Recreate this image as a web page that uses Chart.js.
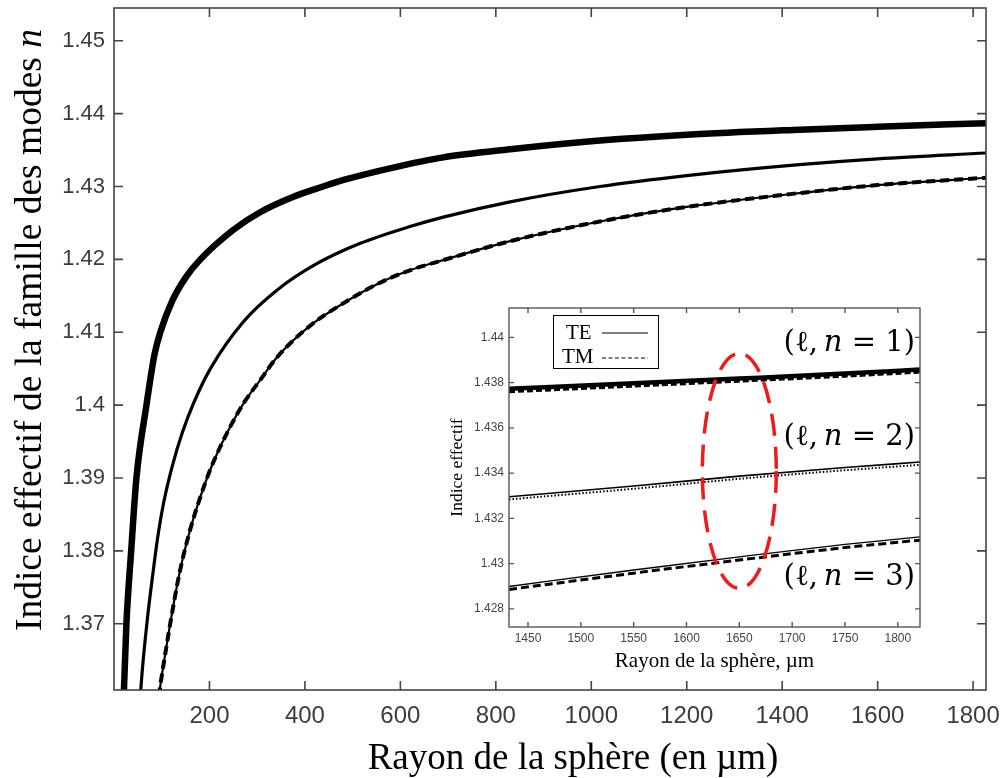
<!DOCTYPE html>
<html>
<head>
<meta charset="utf-8">
<script src="https://cdn.jsdelivr.net/npm/chart.js@4.4.0/dist/chart.umd.min.js"></script>
<style>
  html, body { margin: 0; padding: 0; background: #fff; }
  #wrap { position: relative; width: 1004px; height: 778px; }
  #mainChart { position: absolute; left: 0; top: 0; }
  #insetChart { position: absolute; left: 440px; top: 298px; }
</style>
</head>
<body>
<div id="wrap">
  <canvas id="mainChart" width="1004" height="778"></canvas>
  <canvas id="insetChart" width="490" height="375"></canvas>
</div>
<script>
// main plot: effective index vs sphere radius (µm)
var xTicks = [200, 400, 600, 800, 1000, 1200, 1400, 1600, 1800];
var yTicks = [1.37, 1.38, 1.39, 1.40, 1.41, 1.42, 1.43, 1.44, 1.45];

var radius1 = [20, 21, 26, 36, 47, 68, 85, 97, 122, 150, 181, 251, 307, 376, 438, 481, 585, 690, 830, 1018, 1200, 1436, 1600, 1827];
var mode1 = [1.3600, 1.3612, 1.3700, 1.3800, 1.3900, 1.4000, 1.4070, 1.4100, 1.4143, 1.4175, 1.4200, 1.4241, 1.4265, 1.4286, 1.4300, 1.4309, 1.4326, 1.4340, 1.4351, 1.4363, 1.4371, 1.4378, 1.4382, 1.4387];

var radius2 = [55, 59, 70, 80, 91, 104, 122, 143, 167, 202, 272, 342, 422, 516, 620, 690, 830, 1018, 1200, 1436, 1600, 1827];
var mode2 = [1.3600, 1.3634, 1.3707, 1.3761, 1.3816, 1.3866, 1.3916, 1.3962, 1.4003, 1.4050, 1.4115, 1.4158, 1.4193, 1.4222, 1.4245, 1.4258, 1.4279, 1.4300, 1.4315, 1.4330, 1.4338, 1.4346];

var radius3 = [94, 97, 108, 122, 139, 160, 181, 202, 237, 272, 307, 342, 411, 481, 551, 620, 690, 830, 1018, 1200, 1436, 1600, 1827];
var mode3 = [1.3600, 1.3615, 1.3661, 1.3716, 1.3775, 1.3830, 1.3874, 1.3912, 1.3962, 1.4003, 1.4035, 1.4066, 1.4109, 1.4140, 1.4166, 1.4185, 1.4199, 1.4225, 1.4252, 1.4272, 1.4291, 1.4302, 1.4312];

// inset: zoom on 1432-1821 µm, TE and TM
var insetXTicks = [1450, 1500, 1550, 1600, 1650, 1700, 1750, 1800];
var insetYTicks = [1.428, 1.430, 1.432, 1.434, 1.436, 1.438, 1.440];
var insetRadius = [1432, 1550, 1650, 1750, 1821];
var mode1TE = [1.43773, 1.43797, 1.43818, 1.43840, 1.43858];
var mode1TM = [1.43763, 1.43788, 1.43810, 1.43832, 1.43850];
var mode2TE = [1.43296, 1.43343, 1.43387, 1.43425, 1.43449];
var mode2TM = [1.43284, 1.43331, 1.43375, 1.43413, 1.43437];
var mode3TE = [1.42899, 1.42972, 1.43030, 1.43085, 1.43118];
var mode3TM = [1.42886, 1.42958, 1.43016, 1.43071, 1.43104];

var sans = "'Liberation Sans', Arial, sans-serif";
var serif = "'Liberation Serif', 'Times New Roman', serif";
var mathSerif = "'DejaVu Serif', serif";

function pts(xs, ys) {
  return xs.map(function (x, i) { return { x: x, y: ys[i] }; });
}

function line(data, width, dash) {
  return {
    data: data,
    borderColor: '#000',
    borderWidth: width,
    borderDash: dash || [],
    pointRadius: 0,
    fill: false,
    cubicInterpolationMode: 'monotone'
  };
}

function fmt(v) { return parseFloat(v.toFixed(3)).toString(); }
function plain(v) { return String(v); }
function noPad(s) { s.paddingLeft = 0; s.paddingRight = 0; s.paddingTop = 0; s.paddingBottom = 0; }

// box around the plot with inward tick marks on all four sides
function frameTicks(len, color, width) {
  return {
    id: 'frameTicks',
    afterDatasetsDraw: function (chart) {
      var a = chart.chartArea, c = chart.ctx, xs = chart.scales.x, ys = chart.scales.y;
      c.save();
      c.strokeStyle = color;
      c.lineWidth = width;
      c.strokeRect(a.left, a.top, a.right - a.left, a.bottom - a.top);
      c.beginPath();
      xs.ticks.forEach(function (t) {
        var px = xs.getPixelForValue(t.value);
        c.moveTo(px, a.bottom); c.lineTo(px, a.bottom - len);
        c.moveTo(px, a.top); c.lineTo(px, a.top + len);
      });
      ys.ticks.forEach(function (t) {
        var py = ys.getPixelForValue(t.value);
        c.moveTo(a.left, py); c.lineTo(a.left + len, py);
        c.moveTo(a.right, py); c.lineTo(a.right - len, py);
      });
      c.stroke();
      c.restore();
    }
  };
}

// write text made of pieces (some italic), centred on cx
function mixedText(c, parts, font, cx, cy) {
  var total = 0;
  parts.forEach(function (p) {
    c.font = (p[1] ? 'italic ' : '') + font;
    total += c.measureText(p[0]).width;
  });
  var x = cx - total / 2;
  parts.forEach(function (p) {
    c.font = (p[1] ? 'italic ' : '') + font;
    c.fillText(p[0], x, cy);
    x += c.measureText(p[0]).width;
  });
  return total;
}

var mainTitles = {
  id: 'mainTitles',
  afterDraw: function (chart) {
    var c = chart.ctx;
    c.save();
    c.fillStyle = '#000';
    c.textAlign = 'left';
    c.textBaseline = 'alphabetic';
    mixedText(c, [['Rayon de la sphère (en µm)', false]], '37px ' + serif, 573, 769);
    c.translate(41, 330);
    c.rotate(-Math.PI / 2);
    mixedText(c, [['Indice effectif de la famille des modes ', false], ['n', true]], '37.5px ' + serif, 0, 0);
    c.restore();
  }
};

new Chart(document.getElementById('mainChart').getContext('2d'), {
  type: 'line',
  data: {
    datasets: [
      line(pts(radius1, mode1), 6.5),
      line(pts(radius2, mode2), 3.2),
      line(pts(radius3, mode3), 2.2),
      line(pts(radius3, mode3), 4, [9, 5])
    ]
  },
  options: {
    responsive: false,
    animation: false,
    layout: { padding: { left: 0, right: 18, top: 8, bottom: 0 } },
    plugins: { legend: { display: false }, tooltip: { enabled: false } },
    scales: {
      x: {
        type: 'linear',
        min: 0,
        max: 1827,
        afterBuildTicks: function (s) { s.ticks = xTicks.map(function (v) { return { value: v }; }); },
        afterFit: function (s) { s.height = 88; noPad(s); },
        grid: { display: false, drawTicks: false },
        border: { display: false },
        ticks: { padding: 12, color: '#3c3c3c', font: { family: sans, size: 24 }, callback: plain, maxRotation: 0, autoSkip: false }
      },
      y: {
        type: 'linear',
        min: 1.3609,
        max: 1.4545,
        afterBuildTicks: function (s) { s.ticks = yTicks.map(function (v) { return { value: v }; }); },
        afterFit: function (s) { s.width = 114; noPad(s); },
        grid: { display: false, drawTicks: false },
        border: { display: false },
        ticks: { padding: 9, color: '#3c3c3c', font: { family: sans, size: 22 }, callback: fmt, autoSkip: false }
      }
    }
  },
  plugins: [frameTicks(9, '#444', 1.6), mainTitles]
});

// inset decorations: background, legend, mode labels, red ellipse, titles
var insetDeco = {
  id: 'insetDeco',
  beforeDraw: function (chart) {
    var c = chart.ctx;
    c.save();
    c.fillStyle = '#fff';
    c.fillRect(0, 0, chart.width, chart.height);
    c.restore();
  },
  afterDraw: function (chart) {
    var c = chart.ctx, a = chart.chartArea, xs = chart.scales.x, ys = chart.scales.y;
    c.save();
    // legend
    var bx = a.left + 44, by = a.top + 7;
    c.fillStyle = '#fff';
    c.fillRect(bx, by, 105, 53);
    c.strokeStyle = '#000';
    c.lineWidth = 1;
    c.strokeRect(bx + 0.5, by + 0.5, 105, 53);
    c.fillStyle = '#000';
    c.font = '21px ' + serif;
    c.textBaseline = 'middle';
    c.textAlign = 'left';
    c.fillText('TE', bx + 13, by + 18);
    c.fillText('TM', bx + 9, by + 42);
    c.beginPath();
    c.moveTo(bx + 49, by + 18); c.lineTo(bx + 95, by + 18);
    c.stroke();
    c.setLineDash([4, 2.5]);
    c.beginPath();
    c.moveTo(bx + 49, by + 43); c.lineTo(bx + 95, by + 43);
    c.stroke();
    c.setLineDash([]);

    // red dashed ellipse
    var cx = xs.getPixelForValue(1650), cy = ys.getPixelForValue(1.4341);
    var rx = xs.getPixelForValue(1685) - cx, ry = ys.getPixelForValue(1.4289) - cy;
    c.strokeStyle = '#f01a1a';
    c.lineWidth = 3.5;
    c.setLineDash([22, 11]);
    c.beginPath();
    c.ellipse(cx, cy, rx, ry, 0, 0, Math.PI * 2);
    c.stroke();
    c.setLineDash([]);

    // mode labels
    c.fillStyle = '#000';
    var lf = '29px ' + mathSerif;
    [[1, 1.43975], [2, 1.43557], [3, 1.42939]].forEach(function (m) {
      var parts = [['(ℓ,\u2009', false], ['n', true], [' = ' + m[0] + ')', false]];
      var w = 0;
      parts.forEach(function (p) {
        c.font = (p[1] ? 'italic ' : '') + lf;
        w += c.measureText(p[0]).width;
      });
      mixedText(c, parts, lf, a.right - 5 - w / 2, ys.getPixelForValue(m[1]));
    });

    // axis titles
    mixedText(c, [['Rayon de la sphère, µm', false]], '21px ' + serif, (a.left + a.right) / 2, a.bottom + 34);
    c.translate(a.left - 52, (a.top + a.bottom) / 2);
    c.rotate(-Math.PI / 2);
    mixedText(c, [['Indice effectif', false]], '17.5px ' + serif, 0, 0);
    c.restore();
  }
};

new Chart(document.getElementById('insetChart').getContext('2d'), {
  type: 'line',
  data: {
    datasets: [
      line(pts(insetRadius, mode1TE), 4.5),
      line(pts(insetRadius, mode1TM), 4.5, [6, 3]),
      line(pts(insetRadius, mode2TE), 1.6),
      line(pts(insetRadius, mode2TM), 2, [1.5, 2]),
      line(pts(insetRadius, mode3TE), 1.3),
      line(pts(insetRadius, mode3TM), 3, [8, 4])
    ]
  },
  options: {
    responsive: false,
    animation: false,
    layout: { padding: { left: 0, right: 10, top: 10, bottom: 0 } },
    plugins: { legend: { display: false }, tooltip: { enabled: false } },
    scales: {
      x: {
        type: 'linear',
        min: 1432,
        max: 1821,
        afterBuildTicks: function (s) { s.ticks = insetXTicks.map(function (v) { return { value: v }; }); },
        afterFit: function (s) { s.height = 46; noPad(s); },
        grid: { display: false, drawTicks: false },
        border: { display: false },
        ticks: { padding: 4, color: '#444', font: { family: sans, size: 12 }, callback: plain, maxRotation: 0, autoSkip: false }
      },
      y: {
        type: 'linear',
        min: 1.4272,
        max: 1.4413,
        afterBuildTicks: function (s) { s.ticks = insetYTicks.map(function (v) { return { value: v }; }); },
        afterFit: function (s) { s.width = 69; noPad(s); },
        grid: { display: false, drawTicks: false },
        border: { display: false },
        ticks: { padding: 5, color: '#444', font: { family: sans, size: 12 }, callback: fmt, autoSkip: false }
      }
    }
  },
  plugins: [frameTicks(5, '#555', 1.4), insetDeco]
});
</script>
</body>
</html>
